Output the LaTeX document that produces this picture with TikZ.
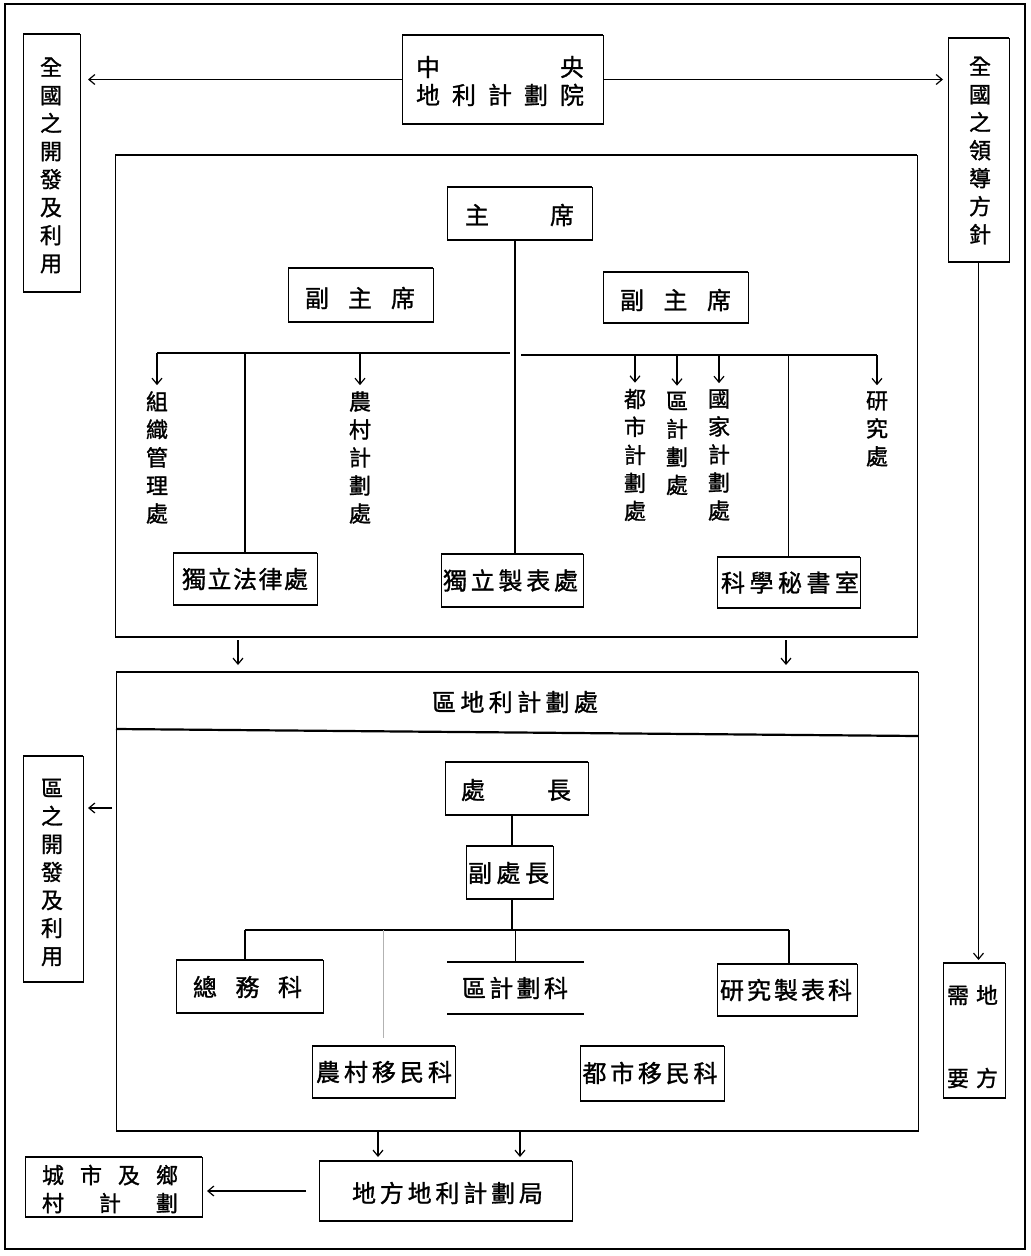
\documentclass[tikz,border=0pt]{standalone}
\usepackage{fontspec}
\usetikzlibrary{arrows.meta}
\newfontfamily\cjk[FakeBold=1.2]{Noto Sans CJK TC}
\makeatletter
\newcommand\spread[2]{\hbox to #1{\def\spr@s{}\@tfor\spr@c:=#2\do{\spr@s\spr@c\def\spr@s{\hfill}}}}
\makeatother
\tikzset{
  boxn/.style={draw, line width=0.8pt, inner sep=0pt, outer sep=0pt},
  edge/.style={line width=2.2pt},
  con/.style={line width=1.2pt},
  tree/.style={line width=1.9pt},
  faint/.style={line width=0.6pt, draw=gray!60},
  arr/.style={con, -{Straight Barb[length=6pt,width=10pt]}},
  vt/.style={font=\cjk\fontsize{22}{28}\selectfont, align=center, inner sep=0pt},
  vts/.style={font=\cjk\fontsize{22}{28}\selectfont, align=center, inner sep=0pt},
  txt/.style={font=\cjk\fontsize{24}{28}\selectfont, align=center, inner sep=0pt},
  frame/.style={line width=2.8pt},
}
\newcommand\mkbox[6][draw]{%
  \pgfmathsetmacro\mkbw{#5-#3}%
  \pgfmathsetmacro\mkbh{#6-#4}%
  \node[boxn,#1,minimum width=\mkbw pt,minimum height=\mkbh pt] (#2) at ({(#3+#5)/2},{(#4+#6)/2}) {};%
  \draw[edge] (#2.north west) -- (#2.north east) (#2.south west) -- (#2.south east);}
\begin{document}
\begin{tikzpicture}[x=1pt,y=-1pt]
\useasboundingbox (0,0) rectangle (1031,1256);
\draw[frame] (5,4) rectangle (1025,1249);

% ---------- top row
\mkbox{zy}{402}{35}{603}{124}
\node[txt] (zyt) at (500,81) {\spread{168pt}{中央}\\\spread{168pt}{地利計劃院}};
\mkbox{qgkf}{23}{34}{80}{292}
\node[vt] (qgkft) at (51,165.5) {全\\國\\之\\開\\發\\及\\利\\用};
\mkbox{qgld}{948}{38}{1009}{262}
\node[vt] (qgldt) at (980,150.5) {全\\國\\之\\領\\導\\方\\針};

% ---------- box A
\mkbox{boxA}{115}{155}{917}{637}
\mkbox{zx}{447}{187}{592}{240}
\node[txt] (zxt) at (519.5,215) {\spread{109pt}{主席}};
\mkbox{fzxA}{288}{268}{433}{322}
\node[txt] (fzxAt) at (360,298) {\spread{110pt}{副主席}};
\mkbox{fzxB}{603}{272}{748}{323}
\node[txt] (fzxBt) at (675.5,300) {\spread{111pt}{副主席}};

\node[vt] (zzgl) at (157,457.5) {組\\織\\管\\理\\處};
\node[vt] (ncjh) at (360,457.5) {農\\村\\計\\劃\\處};
\node[vt] (dsjh) at (635,455) {都\\市\\計\\劃\\處};
\node[vt] (qjh) at (677,443.5) {區\\計\\劃\\處};
\node[vt] (gjjh) at (719,455) {國\\家\\計\\劃\\處};
\node[vt] (yjc) at (877,429) {研\\究\\處};

\mkbox{dlfl}{173}{553}{317}{605}
\node[txt] (dlflt) at (245,579) {\spread{126pt}{獨立法律處}};
\mkbox{dlzb}{441}{554}{583}{607}
\node[txt] (dlzbt) at (510.5,580.5) {\spread{135pt}{獨立製表處}};
\mkbox{kxms}{717}{557}{860}{608}
\node[txt] (kxmst) at (790,582.5) {\spread{138pt}{科學秘書室}};

% ---------- box B
\mkbox{boxB}{116}{672}{918}{1131}
\node[txt] (hdr) at (515,702) {\spread{166pt}{區地利計劃處}};
\mkbox{cz}{445}{762}{588}{815}
\node[txt] (czt) at (516,790) {\spread{110pt}{處長}};
\mkbox{fcz}{466}{846}{553}{899}
\node[txt] (fczt) at (508.5,873) {\spread{81pt}{副處長}};
\mkbox{zwk}{176}{960}{323}{1013}
\node[txt] (zwkt) at (247.5,987) {\spread{109pt}{總務科}};
\mkbox[draw=none]{qjhk}{447}{962}{584}{1014}
\node[txt] (qjhkt) at (515,988) {\spread{106pt}{區計劃科}};
\mkbox{yjzbk}{717}{964}{857}{1016}
\node[txt] (yjzbkt) at (786,990) {\spread{132pt}{研究製表科}};
\mkbox{ncym}{312}{1046}{455}{1098}
\node[txt] (ncymt) at (384,1072) {\spread{136pt}{農村移民科}};
\mkbox{dsym}{580}{1046}{724}{1101}
\node[txt] (dsymt) at (650,1073) {\spread{135pt}{都市移民科}};

% ---------- side boxes
\mkbox{qkf}{23}{756}{83}{982}
\node[vt] (qkft) at (52,872.5) {區\\之\\開\\發\\及\\利\\用};
\mkbox{dfxq}{943}{963}{1005}{1098}
\node[vts] (dfxqa) at (972.5,995) {\spread{51pt}{需地}};
\node[vts] (dfxqb) at (972.5,1078) {\spread{51pt}{要方}};

% ---------- bottom
\mkbox{dfj}{319}{1161}{572}{1221}
\node[txt] (dfjt) at (447.5,1193) {\spread{191pt}{地方地利計劃局}};
\mkbox{cs}{25}{1157}{202}{1217}
\node[vts] (cst) at (110,1189) {\spread{136pt}{城市及鄉}\\\spread{136pt}{村計劃}};

% ---------- coordinates
\coordinate (hL1) at (157,353);
\coordinate (hL2) at (510,353);
\coordinate (hR1) at (521,355);
\coordinate (hR2) at (877,355);
\coordinate (cl) at (515,0);
\coordinate (cl2) at (512,0);
\coordinate (bar1) at (245,930);
\coordinate (bar2) at (789,930);
\coordinate (sepL) at (0,729);
\coordinate (sepR) at (0,736);
\coordinate (ay) at (0,808);
\coordinate (ax1) at (238,0);
\coordinate (ax2) at (786,0);
\coordinate (ax3) at (378,0);
\coordinate (ax4) at (520,0);

% ---------- connectors
\draw[arr, shorten >=8pt] (zy.west) -- (qgkf.east |- zy.west);
\draw[arr, shorten >=5pt] (zy.east) -- (qgld.west |- zy.east);
\draw[arr, shorten >=3pt] (qgld.south) -- (qgld.south |- dfxq.north);

\draw[con] (zx.south -| cl) -- (dlzb.north -| cl);
\draw[con] (hL1) -- (hL2);
\draw[con] (hR1) -- (hR2);
\draw[arr, shorten >=6pt] (zzgl.north |- hL1) -- (zzgl.north);
\draw[arr, shorten >=6pt] (ncjh.north |- hL1) -- (ncjh.north);
\draw[con] (hL1 -| dlfl.north) -- (dlfl.north);
\draw[arr, shorten >=6pt] (dsjh.north |- hR1) -- (dsjh.north);
\draw[arr, shorten >=6pt] (qjh.north |- hR1) -- (qjh.north);
\draw[arr, shorten >=6pt] (gjjh.north |- hR1) -- (gjjh.north);
\draw[arr, shorten >=6pt] (yjc.north |- hR1) -- (yjc.north);
\draw[con] (hR1 -| kxms.north) -- (kxms.north);

\draw[arr, shorten <=3pt, shorten >=7pt] (boxA.south -| ax1) -- (boxB.north -| ax1);
\draw[arr, shorten <=3pt, shorten >=7pt] (boxA.south -| ax2) -- (boxB.north -| ax2);

\draw[edge] (boxB.west |- sepL) -- (boxB.east |- sepR);
\draw[arr, shorten <=4pt, shorten >=5pt] (boxB.west |- ay) -- (qkf.east |- ay);

\draw[tree] (cz.south -| cl2) -- (fcz.north -| cl2);
\draw[tree] (fcz.south -| cl2) -- (bar1 -| cl2);
\draw[tree] (bar1) -- (bar2);
\draw[tree] (bar1) -- (zwk.north -| bar1);
\draw[faint, shorten >=8pt] (bar1 -| ncym.north) -- (ncym.north);
\draw[tree] (bar1 -| qjhk.north) -- (qjhk.north);
\draw[tree] (bar2) -- (yjzbk.north -| bar2);

\draw[arr, shorten >=4pt] (boxB.south -| ax3) -- (dfj.north -| ax3);
\draw[arr, shorten >=4pt] (boxB.south -| ax4) -- (dfj.north -| ax4);
\draw[arr, shorten <=13pt, shorten >=5pt] (dfj.west) -- (cs.east |- dfj.west);
\end{tikzpicture}
\end{document}
